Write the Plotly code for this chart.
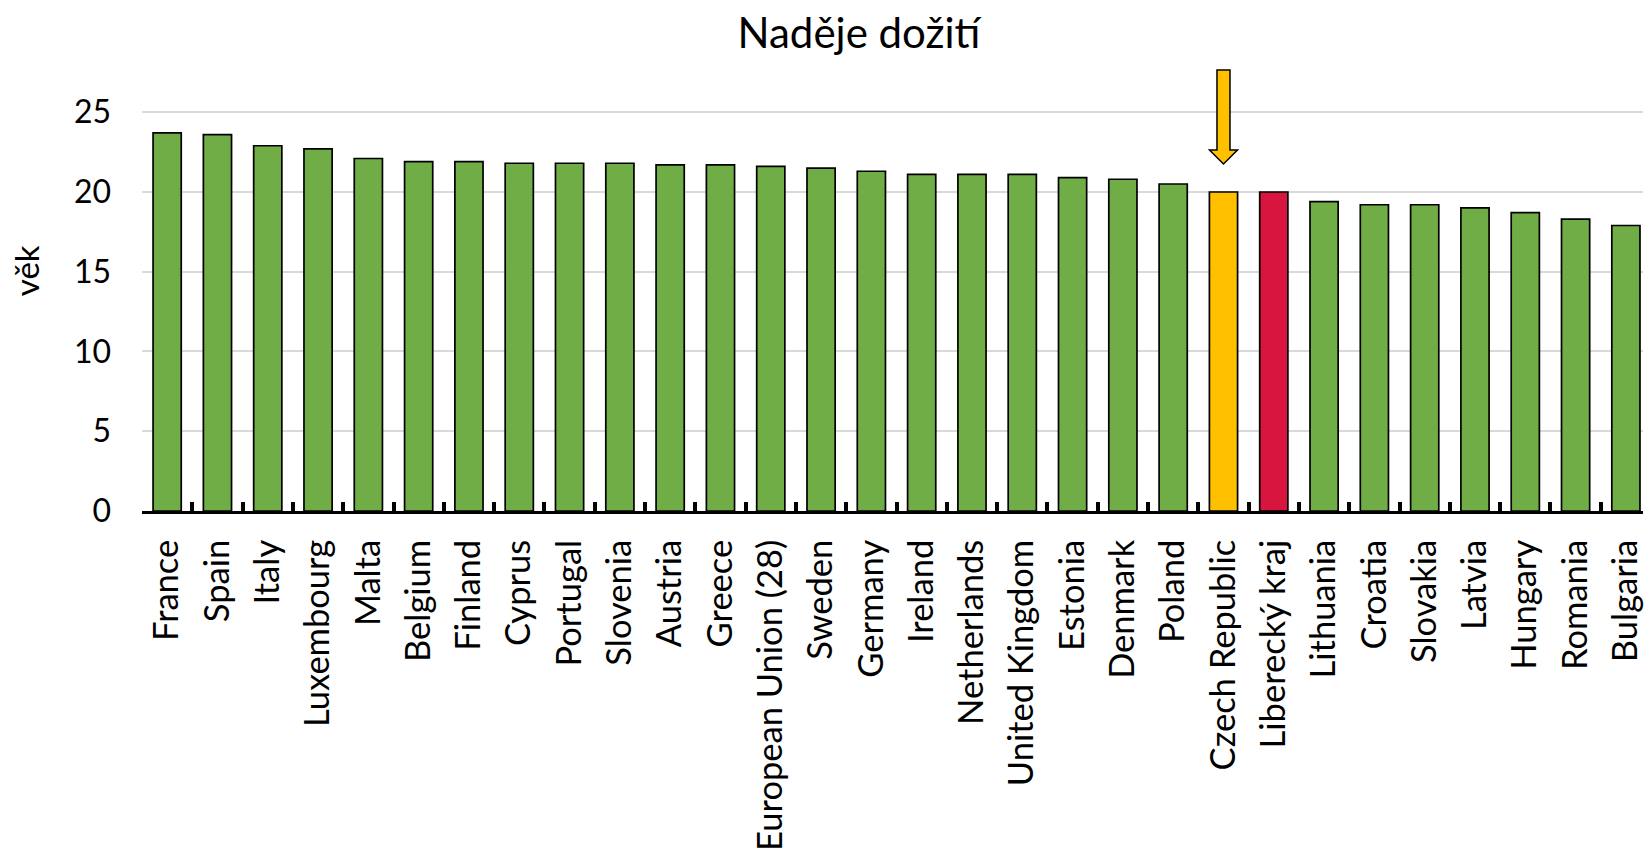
import plotly.graph_objects as go

# -------------------------
# Data
# -------------------------
countries = [
    "France", "Spain", "Italy", "Luxembourg", "Malta", "Belgium", "Finland",
    "Cyprus", "Portugal", "Slovenia", "Austria", "Greece", "European Union (28)",
    "Sweden", "Germany", "Ireland", "Netherlands", "United Kingdom", "Estonia",
    "Denmark", "Poland", "Czech Republic", "Liberecký kraj", "Lithuania",
    "Croatia", "Slovakia", "Latvia", "Hungary", "Romania", "Bulgaria"
]
life_exp = [
    23.7, 23.6, 22.9, 22.7, 22.1, 21.9, 21.9, 21.8, 21.8, 21.8,
    21.7, 21.7, 21.6, 21.5, 21.3, 21.1, 21.1, 21.1, 20.9, 20.8,
    20.5, 20.0, 20.0, 19.4, 19.2, 19.2, 19.0, 18.7, 18.3, 17.9
]
y_ticks = [0, 5, 10, 15, 20, 25]

highlight = {"Czech Republic": "#FFC000", "Liberecký kraj": "#D7153F"}
arrow_at = "Czech Republic"

# -------------------------
# Bars
# -------------------------
colors = [highlight.get(c, "#70AD47") for c in countries]

fig = go.Figure(go.Bar(
    x=countries,
    y=life_exp,
    width=0.56,
    marker=dict(color=colors, line=dict(color="black", width=1.7)),
    hoverinfo="x+y",
))

# arrow pointing at the Czech bar (pixel sized, anchored on the bar top)
i = countries.index(arrow_at)
fig.add_shape(
    type="path",
    xref="x", yref="y",
    xsizemode="pixel", ysizemode="pixel",
    xanchor=i, yanchor=life_exp[i],
    path="M -6.5 122 L 6.5 122 L 6.5 42 L 14 42 L 0 28 L -14 42 L -6.5 42 Z",
    fillcolor="#FFC000",
    line=dict(color="black", width=1.5),
)

fig.add_annotation(
    text="věk", textangle=-90,
    xref="paper", yref="paper", x=-0.0775, y=0.5, yshift=14,
    xanchor="center", yanchor="middle",
    showarrow=False, font=dict(size=33),
)

fig.update_layout(
    width=1644, height=851,
    margin=dict(l=142, r=0, t=58, b=338),
    font=dict(family="Lato", color="black"),
    title=dict(text="Naděje dožití", x=0.5225, xanchor="center",
               y=0.961, yanchor="middle", font=dict(size=42)),
    plot_bgcolor="white", paper_bgcolor="white",
    showlegend=False,
)

fig.update_xaxes(
    type="category", range=[-0.5, 29.34],
    showline=True, linecolor="black", linewidth=3,
    ticks="inside", tickson="boundaries", ticklen=9, tickwidth=4, tickcolor="black",
    tickangle=-90, tickfont=dict(size=34.5), ticklabelstandoff=12,
    showgrid=False,
)
fig.update_yaxes(
    range=[0, 28.4], tickvals=y_ticks,
    showgrid=True, gridcolor="#D9D9D9", gridwidth=1.5,
    zeroline=False, showline=False,
    tickfont=dict(size=32), ticklabelstandoff=30,
)

fig.write_html("out.html", config={"displayModeBar": False},
               post_script="document.body.style.margin='0';")
